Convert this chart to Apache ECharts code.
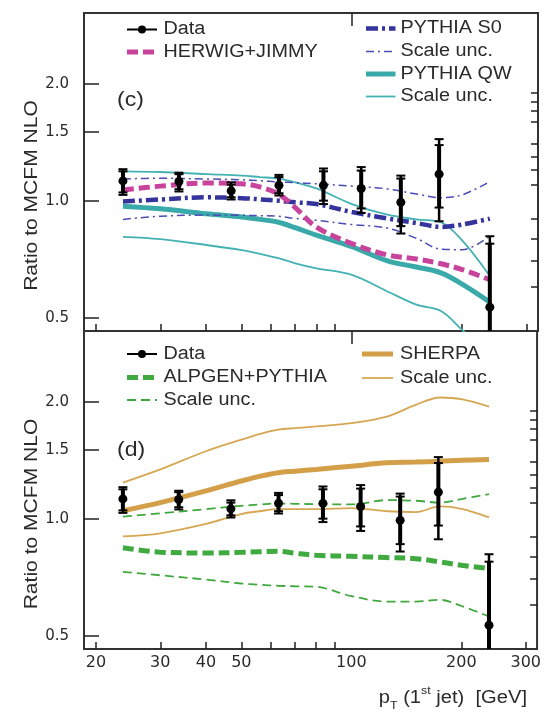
<!DOCTYPE html>
<html><head><meta charset="utf-8">
<script src="https://cdn.jsdelivr.net/npm/echarts@6/dist/echarts.min.js"></script>
<style>html,body{margin:0;padding:0;background:#fff}#c{width:544px;height:712px}</style>
</head><body><div id="c"></div>
<script>
// ---------- data ----------
const curvePt = [23.7, 30, 40, 50, 56, 63, 70, 80, 100, 125, 150, 175, 200, 238];
// panel (c)
const herwig = [1.065, 1.09, 1.11, 1.105, 1.085, 1.04, 0.96, 0.855, 0.775, 0.725, 0.708, 0.688, 0.665, 0.626];
const s0     = [0.995, 1.007, 1.02, 1.015, 1.008, 1.0, 0.99, 0.98, 0.935, 0.90, 0.876, 0.856, 0.868, 0.899];
const s0Up   = [1.137, 1.142, 1.137, 1.132, 1.125, 1.118, 1.112, 1.105, 1.09, 1.072, 1.04, 1.018, 1.035, 1.12];
const s0Dn   = [0.895, 0.912, 0.918, 0.917, 0.915, 0.912, 0.90, 0.89, 0.868, 0.85, 0.80, 0.75, 0.748, 0.81];
const qw     = [0.968, 0.953, 0.925, 0.908, 0.895, 0.88, 0.852, 0.815, 0.761, 0.70, 0.675, 0.652, 0.61, 0.548];
const qwUp   = [1.19, 1.185, 1.17, 1.16, 1.15, 1.14, 1.115, 1.075, 0.98, 0.92, 0.895, 0.88, 0.79, 0.64];
const qwDn   = [0.807, 0.796, 0.769, 0.746, 0.73, 0.711, 0.69, 0.670, 0.644, 0.584, 0.540, 0.520, 0.465, 0.40];
// panel (d)
const sherpa   = [1.048, 1.10, 1.179, 1.25, 1.285, 1.313, 1.325, 1.339, 1.365, 1.392, 1.398, 1.406, 1.414, 1.42];
const sherpaUp = [1.238, 1.339, 1.491, 1.597, 1.65, 1.694, 1.71, 1.727, 1.761, 1.831, 1.963, 2.05, 2.03, 1.943];
const sherpaDn = [0.90, 0.917, 0.969, 1.028, 1.045, 1.058, 1.058, 1.058, 1.065, 1.045, 1.04, 1.075, 1.06, 1.008];
const alpgen   = [0.842, 0.82, 0.816, 0.819, 0.822, 0.825, 0.815, 0.805, 0.80, 0.794, 0.789, 0.774, 0.759, 0.744];
const alpgenUp = [1.012, 1.032, 1.058, 1.079, 1.087, 1.094, 1.092, 1.09, 1.088, 1.116, 1.112, 1.10, 1.123, 1.156];
const alpgenDn = [0.73, 0.715, 0.697, 0.681, 0.676, 0.672, 0.67, 0.668, 0.632, 0.612, 0.612, 0.618, 0.596, 0.56];
// measured data
const dataPt  = [23.7, 33.7, 46.8, 63.2, 83.6, 106, 136, 173, 238];
const dataVal = [1.124, 1.12, 1.06, 1.095, 1.095, 1.075, 0.99, 1.17, 0.532];
const errHi   = [1.205, 1.18, 1.115, 1.165, 1.21, 1.22, 1.16, 1.44, 0.81];
const errLo   = [1.035, 1.056, 1.007, 1.031, 0.98, 0.93, 0.823, 0.885, 0.40];
const statHi  = [1.19, 1.17, 1.10, 1.15, 1.19, 1.195, 1.14, 1.39, 0.775];
const statLo  = [1.05, 1.07, 1.02, 1.045, 1.00, 0.955, 0.86, 0.96, 0.44];
// ticks
const xTicksMinor = [20, 30, 40, 50, 60, 70, 80, 90, 200, 300];
const xTicksMajor = [100];
const xLabels = [20, 30, 40, 50, 100, 200, 300];
const yTicksMajor = [0.5, 1.0, 1.5, 2.0];
const yTicksMinor = [0.6, 0.7, 0.8, 0.9, 1.1, 1.2, 1.3, 1.4, 1.6, 1.7, 1.8, 1.9];

// ---------- styles ----------
const X_MIN = 18.55, X_MAX = 322.2, Y_MIN = 0.462, Y_MAX = 3.04;
const TXT = '#2a2a2a';
const C_MAG = '#c8449c', C_BLUE = '#34349c', C_BLUE2 = '#4b4bb4', C_TEAL = '#3aa9a9', C_TEAL2 = '#44b2b2';
const C_GOLD = '#d3a049', C_GOLD2 = '#d6a752', C_GREEN = '#40aa40', C_GREEN2 = '#3fa93f';
const DASH_DOT = [12, 4, 3, 4], DASH_DOT_T = [8, 4, 2, 4], DASH = [11, 5], DASH_T = [9, 5];
const FONT = '"Liberation Sans", Arial, sans-serif';

function pairs(vals) { return curvePt.map((x, i) => [x, vals[i]]); }

function xAx(grid, ticks, len, labels) {
  return {
    type: 'log', logBase: 10, gridIndex: grid, min: X_MIN, max: X_MAX,
    axisLine: { show: false }, splitLine: { show: false }, minorTick: { show: false },
    axisTick: { show: true, inside: true, length: len, customValues: ticks, lineStyle: { color: '#222', width: 1.5 } },
    axisLabel: labels ? { show: true, customValues: labels, margin: 6, fontFamily: 'DejaVu Sans', fontSize: 16, color: TXT, formatter: v => String(Math.round(v)) } : { show: false }
  };
}
function yAx(grid, ticks, len, labels) {
  return {
    type: 'log', logBase: 10, gridIndex: grid, min: Y_MIN, max: Y_MAX,
    axisLine: { show: false }, splitLine: { show: false }, minorTick: { show: false },
    axisTick: { show: true, inside: true, length: len, customValues: ticks, lineStyle: { color: '#222', width: 1.5 } },
    axisLabel: labels ? { show: true, customValues: labels, margin: 15, fontFamily: 'DejaVu Sans', fontSize: 15, color: TXT, formatter: v => Number(v).toFixed(1) } : { show: false }
  };
}
function lineS(name, xi, yi, vals, color, width, dash, z) {
  return {
    type: 'line', name: name, xAxisIndex: xi, yAxisIndex: yi, data: pairs(vals),
    showSymbol: false, symbol: 'none', smooth: 0.35, clip: true, silent: true, z: z || 2,
    lineStyle: { color: color, width: width, type: dash || 'solid', cap: 'butt' }
  };
}
function dataS(xi, yi) {
  return {
    type: 'custom', name: 'Data', xAxisIndex: xi, yAxisIndex: yi, clip: true, z: 10, silent: true,
    data: dataPt.map((x, i) => [x, dataVal[i], errLo[i], errHi[i], statLo[i], statHi[i]]),
    encode: { x: 0, y: 1 },
    renderItem: function (params, api) {
      const x = api.value(0);
      const c = api.coord([x, api.value(1)]);
      const lo = api.coord([x, api.value(2)]);
      const hi = api.coord([x, api.value(3)]);
      const slo = api.coord([x, api.value(4)]);
      const shi = api.coord([x, api.value(5)]);
      const w = 4.5, s = { stroke: '#000', lineWidth: 2 };
      const cap = (y) => ({ type: 'line', shape: { x1: c[0] - w, y1: y, x2: c[0] + w, y2: y }, style: s });
      return { type: 'group', children: [
        { type: 'line', shape: { x1: c[0], y1: lo[1], x2: c[0], y2: hi[1] }, style: { stroke: '#000', lineWidth: 2.5 } },
        { type: 'line', shape: { x1: c[0], y1: slo[1], x2: c[0], y2: shi[1] }, style: { stroke: '#000', lineWidth: 4 } },
        cap(lo[1]), cap(hi[1]), cap(slo[1]), cap(shi[1]),
        { type: 'circle', shape: { cx: c[0], cy: c[1], r: 4.5 }, style: { fill: '#000' } }
      ] };
    }
  };
}

// ---------- legend / text graphics ----------
function gLine(x1, x2, y, color, width, dash) {
  return { type: 'line', shape: { x1: x1, y1: y, x2: x2, y2: y }, style: { stroke: color, lineWidth: width, lineDash: dash || null } };
}
function gText(x, y, text, size, sx, align) {
  return { type: 'text', x: x, y: y, scaleX: sx || 1.1,
    style: { text: text, x: 0, y: 0, font: (size || 18) + 'px ' + FONT, fill: TXT,
      textAlign: align || 'left', align: align || 'left', textVerticalAlign: 'middle', verticalAlign: 'middle' } };
}
function gData(y) {
  return [gLine(127, 157, y, '#000', 2), { type: 'circle', shape: { cx: 142, cy: y, r: 4 }, style: { fill: '#000' } }];
}
const graphics = [].concat(
  // panel (c) legend
  gData(29.5), [gText(163.5, 29.5, 'Data')],
  [gLine(127, 157, 52, C_MAG, 5, DASH), gText(163.5, 52, 'HERWIG+JIMMY')],
  [gLine(366, 395.5, 28.5, C_BLUE, 4.5, DASH_DOT), gText(400.5, 28.5, 'PYTHIA S0')],
  [gLine(366, 395.5, 51.5, C_BLUE2, 1.5, DASH_DOT_T), gText(400.5, 51.5, 'Scale unc.')],
  [gLine(366, 395.5, 74, C_TEAL, 5), gText(400.5, 74, 'PYTHIA QW')],
  [gLine(366, 395.5, 96.5, C_TEAL2, 1.8), gText(400.5, 96.5, 'Scale unc.')],
  [gText(117, 100, '(c)', 21, 1.1)],
  // panel (d) legend
  gData(354), [gText(163.5, 354, 'Data')],
  [gLine(127, 157, 377.5, C_GREEN, 5, DASH), gText(163.5, 377.5, 'ALPGEN+PYTHIA')],
  [gLine(127, 157, 400, C_GREEN2, 1.8, DASH_T), gText(163.5, 400, 'Scale unc.')],
  [gLine(362, 393, 354, C_GOLD, 5), gText(400, 354, 'SHERPA')],
  [gLine(362, 393, 378, C_GOLD2, 1.8), gText(400, 378, 'Scale unc.')],
  [gText(117, 450, '(d)', 21, 1.1)],
  // axis titles
  [{ type: 'text', x: 31.7, y: 195.5, rotation: Math.PI / 2, scaleX: 1.17,
     style: { text: 'Ratio to MCFM NLO', x: 0, y: 0, font: '18px ' + FONT, fill: TXT, textAlign: 'center', align: 'center', textVerticalAlign: 'middle', verticalAlign: 'middle' } },
   { type: 'text', x: 31.7, y: 514, rotation: Math.PI / 2, scaleX: 1.17,
     style: { text: 'Ratio to MCFM NLO', x: 0, y: 0, font: '18px ' + FONT, fill: TXT, textAlign: 'center', align: 'center', textVerticalAlign: 'middle', verticalAlign: 'middle' } },
   { type: 'text', x: 527, y: 698, scaleX: 1.12,
     style: { text: 'p{sub|T} (1{sup|st} jet)  [GeV]', x: 0, y: 0, font: '18px ' + FONT, fill: TXT, lineHeight: 26,
       textAlign: 'right', align: 'right', textVerticalAlign: 'middle', verticalAlign: 'middle',
       rich: { sub: { fontSize: 11, fontFamily: 'Liberation Sans', verticalAlign: 'bottom', fill: TXT },
               sup: { fontSize: 11, fontFamily: 'Liberation Sans', verticalAlign: 'top', fill: TXT } } } }]
);

const chart = echarts.init(document.getElementById('c'), null, { renderer: 'canvas' });
chart.setOption({
  animation: false,
  backgroundColor: '#fff',
  grid: [
    { left: 84, top: 13, width: 454, height: 318, show: true, borderColor: '#333', borderWidth: 2, backgroundColor: 'transparent' },
    { left: 84, top: 331, width: 454, height: 318, show: true, borderColor: '#333', borderWidth: 2, backgroundColor: 'transparent' }
  ],
  xAxis: [
    xAx(0, xTicksMinor, 7, null), xAx(0, xTicksMajor, 13, null),
    xAx(1, xTicksMinor, 7, xLabels), xAx(1, xTicksMajor, 13, null)
  ],
  yAxis: [
    yAx(0, yTicksMajor, 15, yTicksMajor), yAx(0, yTicksMinor, 7, null),
    yAx(1, yTicksMajor, 15, yTicksMajor), yAx(1, yTicksMinor, 7, null)
  ],
  series: [
    lineS('QW up', 0, 0, qwUp, C_TEAL2, 1.8),
    lineS('QW dn', 0, 0, qwDn, C_TEAL2, 1.8),
    lineS('PYTHIA QW', 0, 0, qw, C_TEAL, 5),
    lineS('S0 up', 0, 0, s0Up, C_BLUE2, 1.5, DASH_DOT_T),
    lineS('S0 dn', 0, 0, s0Dn, C_BLUE2, 1.5, DASH_DOT_T),
    lineS('PYTHIA S0', 0, 0, s0, C_BLUE, 4.5, DASH_DOT, 3),
    lineS('HERWIG+JIMMY', 0, 0, herwig, C_MAG, 5, DASH, 4),
    dataS(0, 0),
    lineS('SHERPA up', 2, 2, sherpaUp, C_GOLD2, 1.8),
    lineS('SHERPA dn', 2, 2, sherpaDn, C_GOLD2, 1.8),
    lineS('SHERPA', 2, 2, sherpa, C_GOLD, 5),
    lineS('ALPGEN up', 2, 2, alpgenUp, C_GREEN2, 1.8, DASH_T),
    lineS('ALPGEN dn', 2, 2, alpgenDn, C_GREEN2, 1.8, DASH_T),
    lineS('ALPGEN+PYTHIA', 2, 2, alpgen, C_GREEN, 5, DASH, 3),
    dataS(2, 2)
  ],
  graphic: graphics
});
</script></body></html>
